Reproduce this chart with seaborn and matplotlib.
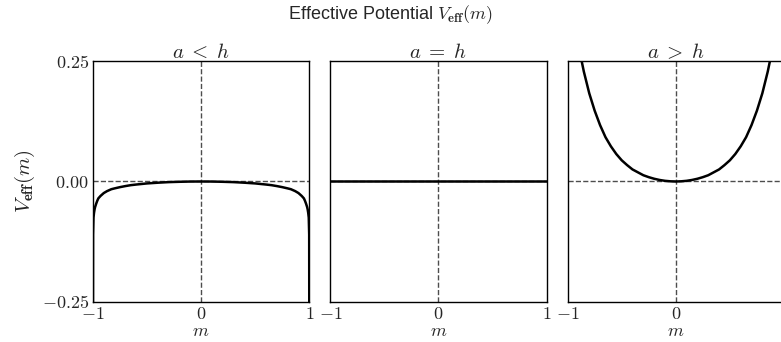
import numpy as np
import pandas as pd
import seaborn as sns
import matplotlib.pyplot as plt

## Data
# a < h : flat near 0, plunging at the edges m -> +-1
m_left = [-1.0, -0.9999, -0.999, -0.995, -0.99, -0.985, -0.98, -0.97, -0.96, -0.95,
          -0.93, -0.90, -0.87, -0.83, -0.80, -0.75, -0.70, -0.65, -0.60, -0.50,
          -0.40, -0.30, -0.20, -0.10, 0.0,
          0.10, 0.20, 0.30, 0.40, 0.50, 0.60, 0.65, 0.70, 0.75, 0.80,
          0.83, 0.87, 0.90, 0.93, 0.95, 0.96, 0.97, 0.98, 0.985, 0.99,
          0.995, 0.999, 0.9999, 1.0]
v_left = [-0.30, -0.30, -0.11, -0.075, -0.065, -0.058, -0.053, -0.046, -0.040, -0.035,
          -0.030, -0.024, -0.020, -0.016, -0.0143, -0.0117, -0.0095, -0.0076, -0.0063, -0.0040,
          -0.0025, -0.0013, -0.0006, -0.0001, 0.0,
          -0.0001, -0.0006, -0.0013, -0.0025, -0.0040, -0.0063, -0.0076, -0.0095, -0.0117, -0.0143,
          -0.016, -0.020, -0.024, -0.030, -0.035, -0.040, -0.046, -0.053, -0.058, -0.065,
          -0.075, -0.11, -0.30, -0.30]

# a = h : flat
m_mid = [-1.0, -0.5, 0.0, 0.5, 1.0]
v_mid = [0.0, 0.0, 0.0, 0.0, 0.0]

# a > h : single well at m = 0
m_right = [-0.95, -0.90, -0.85, -0.80, -0.75, -0.70, -0.65, -0.60, -0.55, -0.50,
           -0.45, -0.40, -0.35, -0.30, -0.25, -0.20, -0.15, -0.10, -0.05, 0.0,
           0.05, 0.10, 0.15, 0.20, 0.25, 0.30, 0.35, 0.40, 0.45, 0.50,
           0.55, 0.60, 0.65, 0.70, 0.75, 0.80, 0.85, 0.90, 0.95]
v_right = [0.348, 0.282, 0.228, 0.183, 0.147, 0.117, 0.092, 0.073, 0.057, 0.044,
           0.034, 0.025, 0.019, 0.013, 0.009, 0.0057, 0.0032, 0.0014, 0.0004, 0.0,
           0.0004, 0.0014, 0.0032, 0.0057, 0.009, 0.013, 0.019, 0.025, 0.034, 0.044,
           0.057, 0.073, 0.092, 0.117, 0.147, 0.183, 0.228, 0.282, 0.348]

panel_titles = ["$a\\;<\\;h$", "$a\\;=\\;h$", "$a\\;>\\;h$"]
x_ticks = [-1, 0, 1]
x_ticklabels = ["$-1$", "$0$", "$1$"]
y_ticks = [-0.25, 0.0, 0.25]
y_ticklabels = ["$-0.25$", "$0.00$", "$0.25$"]

sns.set_style("white", {"axes.edgecolor": "black"})
plt.rcParams["font.family"] = ["Liberation Sans", "DejaVu Sans"]
plt.rcParams["mathtext.fontset"] = "cm"

fig, axes = plt.subplots(1, 3, sharey=True, figsize=(7.81, 3.42), dpi=100)
fig.subplots_adjust(left=0.119, right=1.0038, bottom=0.117, top=0.8216, wspace=0.097)

curves = [(m_left, v_left), (m_mid, v_mid), (m_right, v_right)]
for ax, (m, v), title in zip(axes, curves, panel_titles):
    ax.axhline(0, color="0.3", ls="--", lw=1)
    ax.axvline(0, color="0.3", ls="--", lw=1)
    sns.lineplot(x=m, y=v, ax=ax, color="black", lw=1.8)
    ax.set_xlim(-1, 1)
    ax.set_ylim(-0.25, 0.25)
    ax.set_xticks(x_ticks)
    ax.set_xticklabels(x_ticklabels, fontsize=13)
    ax.set_title(title, fontsize=15, pad=2)
    ax.set_xlabel("$m$", fontsize=13, labelpad=0)
    ax.tick_params(length=0, pad=3)
    for sp in ax.spines.values():
        sp.set_linewidth(1.0)

axes[0].set_yticks(y_ticks)
axes[0].set_yticklabels(y_ticklabels, fontsize=13)
axes[0].set_ylabel("$V_{\\mathbf{eff}}(m)$", fontsize=15, labelpad=3)

fig.suptitle("Effective Potential $V_{\\mathbf{eff}}(m)$", fontsize=13, y=0.99)

fig.savefig("out.png", dpi=100)
